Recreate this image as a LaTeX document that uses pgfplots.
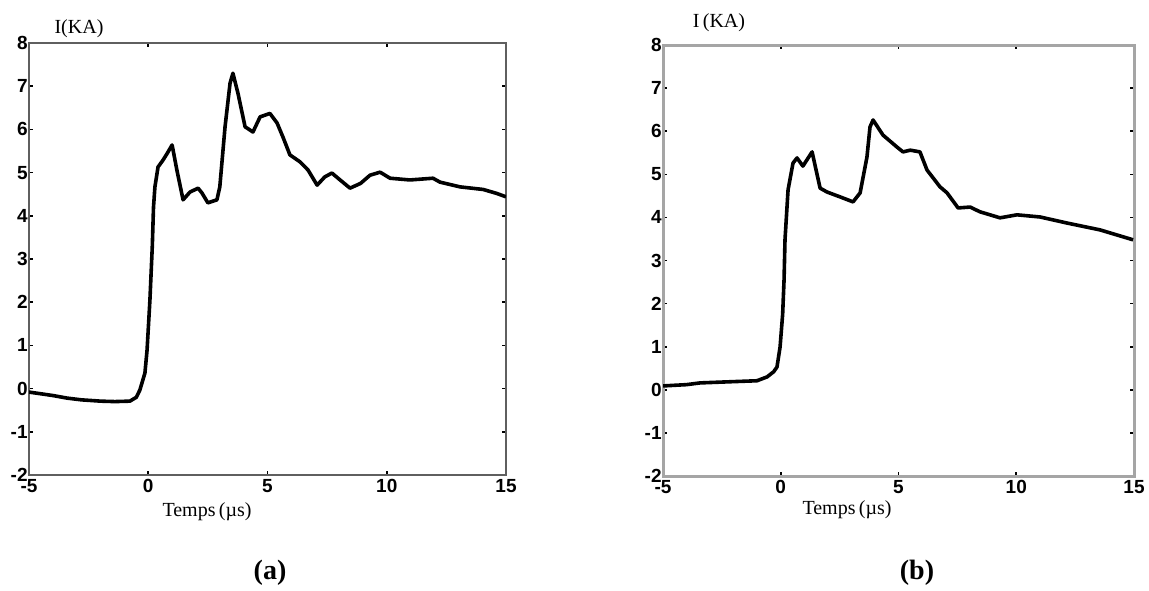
\documentclass[border=0pt]{standalone}
\usepackage{fontspec}
\setmainfont{Liberation Serif}
\setsansfont{Liberation Sans}
\usepackage{pgfplots}
\usepackage{pgfplotstable}
\pgfplotsset{compat=1.18}

\pgfplotstableread{
x y
-5 -0.08
-4.5 -0.12
-4 -0.16
-3.4 -0.22
-2.8 -0.26
-2.0 -0.29
-1.4 -0.30
-0.77 -0.29
-0.5 -0.2
-0.35 -0.03
-0.14 0.36
-0.05 0.89
0.07 2.05
0.17 3.3
0.22 4.20
0.28 4.67
0.41 5.13
0.62 5.29
0.8 5.45
1.0 5.64
1.2 5.06
1.46 4.37
1.75 4.55
2.09 4.64
2.25 4.53
2.5 4.30
2.88 4.37
3.0 4.67
3.22 6.06
3.43 7.07
3.55 7.30
3.76 6.84
4.06 6.06
4.39 5.94
4.69 6.29
5.1 6.37
5.4 6.15
5.65 5.82
5.94 5.41
6.36 5.25
6.70 5.06
7.08 4.71
7.40 4.90
7.70 4.99
8.0 4.85
8.46 4.64
8.9 4.75
9.30 4.94
9.72 5.01
10.14 4.87
10.97 4.83
11.94 4.87
12.23 4.78
13.07 4.67
14.04 4.61
14.6 4.52
15 4.44
}\dataA

\pgfplotstableread{
x y
-5 0.09
-4 0.12
-3.43 0.16
-2 0.19
-1.01 0.21
-0.58 0.30
-0.3 0.42
-0.16 0.53
-0.03 0.99
0.08 1.75
0.14 2.55
0.18 3.48
0.31 4.64
0.52 5.26
0.69 5.38
0.94 5.19
1.33 5.52
1.67 4.68
1.96 4.59
2.5 4.48
3.07 4.36
3.37 4.57
3.66 5.40
3.79 6.10
3.92 6.26
4.34 5.91
4.94 5.63
5.19 5.52
5.5 5.56
5.91 5.52
6.21 5.10
6.76 4.71
7.06 4.57
7.53 4.22
8.04 4.24
8.46 4.13
9.31 3.99
10.03 4.06
11.01 4.01
12.15 3.87
13.56 3.71
14.96 3.48
}\dataB

\pgfplotsset{
  myax/.style={
    scale only axis,
    xmin=-5, xmax=15, ymin=-2, ymax=8,
    xtick={-5,0,5,10,15}, xticklabels={-5,0,5,10,15},
    ytick={-2,-1,0,1,2,3,4,5,6,7,8},
    yticklabels={-2,-1,0,1,2,3,4,5,6,7,8},
    tick align=inside, major tick length=2pt,
    tick style={black, line width=0.8pt},
    ticklabel style={font=\sffamily\bfseries\fontsize{9.5}{11}\selectfont},
    yticklabel style={inner sep=0.5pt},
    xticklabel style={inner sep=1pt, yshift=-1pt},
  },
  curve/.style={black, line width=1.8pt, line join=round, no markers},
}

\begin{document}
\begin{tikzpicture}
\path[use as bounding box] (0,0) rectangle (574.5pt,-295pt);

\begin{axis}[myax, at={(14.5pt,-21.5pt)}, anchor=north west,
  width=238.5pt, height=216pt,
  axis line style={draw={rgb,255:red,95;green,95;blue,95}, line width=1.3pt}]
  \addplot[curve] table[x=x,y=y] {\dataA};
\end{axis}

\begin{axis}[myax, at={(331.5pt,-22.5pt)}, anchor=north west,
  width=235.5pt, height=215.5pt,
  axis line style={draw={rgb,255:red,165;green,165;blue,165}, line width=1.5pt}]
  \addplot[curve] table[x=x,y=y] {\dataB};
\end{axis}

\node[font=\fontsize{10}{12}\selectfont] at (39.5pt,-14.5pt) {I(KA)};
\node[font=\fontsize{10}{12}\selectfont] at (359.5pt,-11.5pt) {I\,(KA)};
\node[font=\fontsize{10}{12}\selectfont] at (103.5pt,-256pt) {Temps\,(µs)};
\node[font=\fontsize{10}{12}\selectfont] at (423.5pt,-255pt) {Temps\,(µs)};
\node[font=\bfseries\fontsize{14}{16}\selectfont] at (135pt,-286.5pt) {(a)};
\node[font=\bfseries\fontsize{14}{16}\selectfont] at (458.5pt,-286.5pt) {(b)};
\end{tikzpicture}
\end{document}
